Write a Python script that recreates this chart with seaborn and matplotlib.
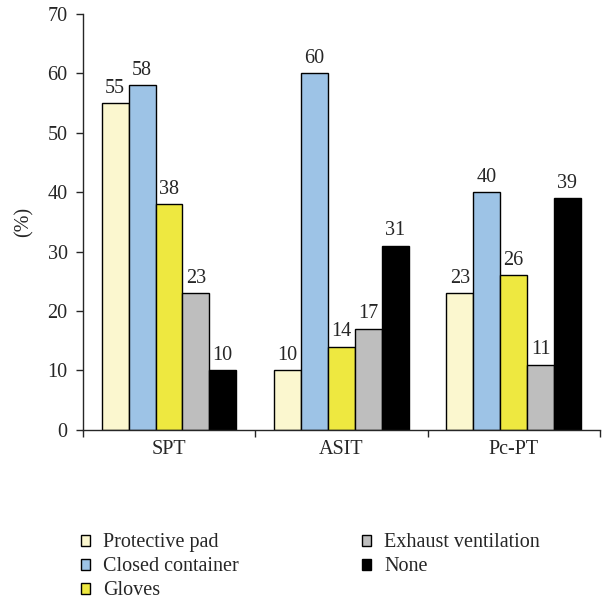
import pandas as pd
import seaborn as sns
import matplotlib.pyplot as plt

# Data
groups = ["SPT", "ASIT", "Pc-PT"]
measures = ["Protective pad", "Closed container", "Gloves", "Exhaust ventilation", "None"]
protective_pad = [55, 10, 23]
closed_container = [58, 60, 40]
gloves = [38, 14, 26]
exhaust_ventilation = [23, 17, 11]
none = [10, 31, 39]
colors = ["#FBF7CF", "#9DC3E6", "#EEE840", "#BEBEBE", "#000000"]

values = [protective_pad, closed_container, gloves, exhaust_ventilation, none]
rows = []
for m, vals in zip(measures, values):
    for g, v in zip(groups, vals):
        rows.append({"group": g, "measure": m, "value": v})
df = pd.DataFrame(rows)

sns.set_style("ticks")
plt.rcParams["font.family"] = ["Liberation Serif", "DejaVu Serif"]
fs = 14.5

fig = plt.figure(figsize=(6.09, 6.08), dpi=100)
ax = fig.add_axes([0.136, 0.293, 0.849, 0.684])
sns.barplot(data=df, x="group", y="value", hue="measure", order=groups,
            hue_order=measures, palette=colors, width=0.78,
            edgecolor="black", linewidth=1, saturation=1, ax=ax)

for cont in ax.containers:
    ax.bar_label(cont, padding=4, fontsize=fs)

ax.set_ylim(0, 70)
ax.set_xlim(-0.5, 2.5)
ax.set_yticks(range(0, 71, 10))
ax.set_ylabel("(%)", fontsize=fs)
ax.set_xlabel("")
ax.tick_params(axis="y", labelsize=fs, direction="out", length=5, width=1, pad=6)
ax.tick_params(axis="x", which="major", labelsize=fs, length=0, pad=7)
ax.set_xticks([-0.5, 0.5, 1.5, 2.5], minor=True)
ax.tick_params(axis="x", which="minor", length=5, width=1)
for s in ["top", "right"]:
    ax.spines[s].set_visible(False)
for s in ["left", "bottom"]:
    ax.spines[s].set_linewidth(1)
ax.yaxis.set_label_coords(-0.095, 0.5)

handles, labels = ax.get_legend_handles_labels()
ax.get_legend().remove()
fig.legend(handles, labels, loc="upper left", bbox_to_anchor=(0.12, 0.136),
           ncol=2, frameon=False, fontsize=fs, handlelength=0.45,
           handleheight=0.45, handletextpad=0.65, columnspacing=6.1,
           labelspacing=0.25, borderaxespad=0)

fig.savefig("out.png", dpi=100)
